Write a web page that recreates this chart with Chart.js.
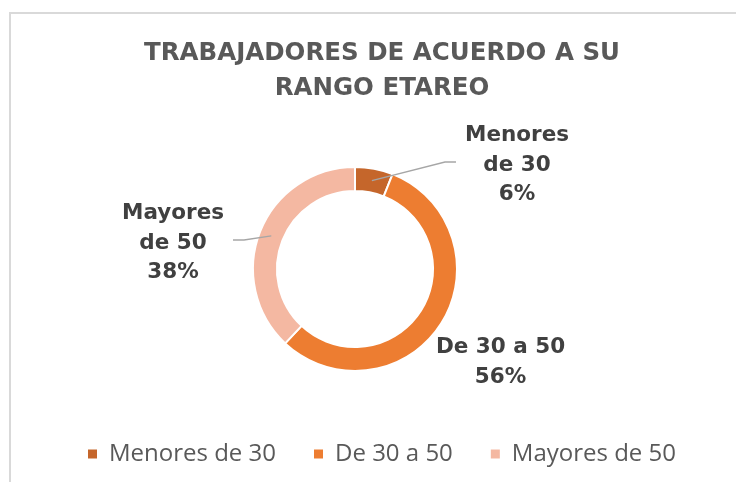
<!DOCTYPE html>
<html>
<head>
<meta charset="utf-8">
<script src="https://cdn.jsdelivr.net/npm/chart.js@4"></script>
<style>
body { margin: 0; background: #fff; }
#marco { position: absolute; left: 9px; top: 12px; width: 744px; height: 470px;
         border-top: 2px solid #d9d9d9; border-left: 2px solid #d9d9d9; box-sizing: border-box; }
#marco canvas { position: absolute; left: 0; top: 0; }
</style>
</head>
<body>
<div id="marco"><canvas id="graficoEdad" width="742" height="468"></canvas></div>
<script>
// datos del grafico
var titulo = ["TRABAJADORES DE ACUERDO A SU", "RANGO ETAREO"];
var categorias = ["Menores de 30", "De 30 a 50", "Mayores de 50"];
var porcentajes = [6, 56, 38];
// texto de las etiquetas (sin el %)
var etiquetas = [["Menores", "de 30"], ["De 30 a 50"], ["Mayores", "de 50"]];
var colores = ["#C5662B", "#ED7D31", "#F4B8A2"];

// etiquetas con lineas guia
const etiquetasDatos = {
    id: 'etiquetasDatos',
    afterLayout(chart, args, opts) {
        // el anillo esta corrido a la izquierda respecto del titulo
        chart.chartArea.left -= opts.desplazamiento;
        chart.chartArea.right -= opts.desplazamiento;
    },
    afterDatasetsDraw(chart, args, opts) {
        const ctx = chart.ctx;
        const arcos = chart.getDatasetMeta(0).data;
        ctx.save();
        ctx.font = opts.fuente;
        ctx.fillStyle = opts.color;
        ctx.textAlign = 'center';
        ctx.textBaseline = 'middle';
        arcos.forEach((arco, i) => {
            const p = arco.getProps(['x', 'y', 'startAngle', 'endAngle', 'innerRadius', 'outerRadius'], true);
            const lineas = etiquetas[i].concat([porcentajes[i] + '%']);
            const cx = p.x + opts.posiciones[i][0];
            const cy = p.y + opts.posiciones[i][1];
            const y0 = cy - (lineas.length - 1) * opts.interlineado / 2;
            if (opts.guias[i]) {
                const ancho = Math.max(...lineas.map(t => ctx.measureText(t).width));
                const medio = (p.startAngle + p.endAngle) / 2;
                const r = (p.innerRadius + p.outerRadius) / 2;
                const sx = p.x + Math.cos(medio) * r;
                const sy = p.y + Math.sin(medio) * r;
                const lado = cx > p.x ? -1 : 1;
                const ex = cx + lado * (ancho / 2 + 9);
                const ey = cy - 3;
                ctx.strokeStyle = '#A6A6A6';
                ctx.lineWidth = 1.3;
                ctx.beginPath();
                ctx.moveTo(sx, sy);
                ctx.lineTo(ex + lado * 11, ey);
                ctx.lineTo(ex, ey);
                ctx.stroke();
            }
            lineas.forEach((t, k) => ctx.fillText(t, cx, y0 + k * opts.interlineado));
        });
        ctx.restore();
    }
};

var ctx = document.getElementById("graficoEdad");

var graficoEdad = new Chart(ctx, {
    type: 'doughnut',
    data: {
        labels: categorias,
        datasets: [{
            data: porcentajes,
            backgroundColor: colores,
            borderColor: "#ffffff",
            borderWidth: 2,
            hoverOffset: 0
        }]
    },
    plugins: [etiquetasDatos],
    options: {
        responsive: false,
        animation: false,
        radius: 102,
        cutout: '76.5%',
        layout: { padding: { top: 0, bottom: 6, left: 0, right: 0 } },
        plugins: {
            title: {
                display: true,
                text: titulo,
                color: "#595959",
                font: { family: '"DejaVu Sans"', size: 24.5, weight: 'bold', lineHeight: '35px' },
                padding: { top: 22, bottom: 28 }
            },
            legend: {
                position: 'bottom',
                labels: {
                    boxWidth: 9,
                    boxHeight: 9,
                    padding: 38,
                    color: "#595959",
                    font: { family: '"Open Sans"', size: 24 },
                    generateLabels(chart) {
                        return Chart.overrides.doughnut.plugins.legend.labels.generateLabels(chart)
                            .map(l => Object.assign(l, { lineWidth: 0 }));
                    }
                }
            },
            tooltip: { enabled: false },
            etiquetasDatos: {
                desplazamiento: 27,
                fuente: 'bold 21.5px "DejaVu Sans"',
                color: "#404040",
                interlineado: 29.5,
                posiciones: [[162, -104], [145.5, 93.5], [-182, -26]],
                guias: [true, false, true]
            }
        }
    }
});
</script>
</body>
</html>
